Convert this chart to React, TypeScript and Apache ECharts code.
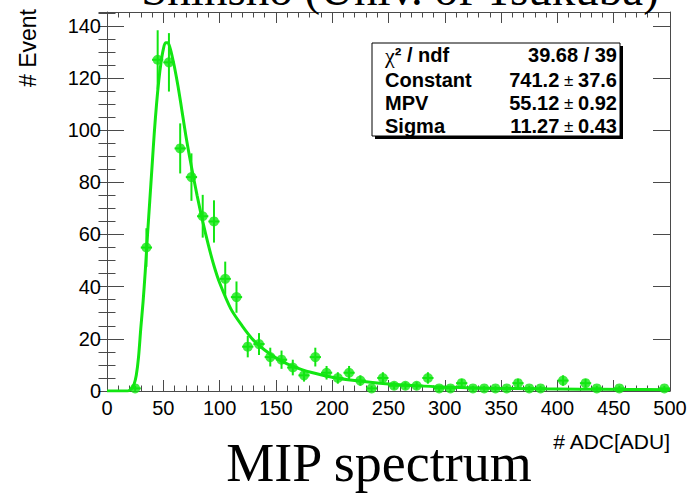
import React, { useEffect, useRef } from 'react';
import * as echarts from 'echarts';

// Histogram bins (bin centers, ADC) with counts and their error bars
const binCenters = [25, 35, 45, 55, 65, 75, 85, 95, 105, 115, 125, 135, 145, 155, 165, 175, 185, 195, 205, 215, 225, 235, 245, 255, 265, 275, 285, 295, 305, 315, 325, 335, 345, 355, 365, 375, 385, 405, 425, 435, 455, 495];
const counts = [1, 55, 127, 126, 93, 82, 67, 65, 43, 36, 17, 18, 13, 12, 9, 6, 13, 7, 5, 7, 4, 1, 5, 2, 2, 2, 5, 1, 1, 3, 1, 1, 1, 1, 3, 1, 1, 4, 3, 1, 1, 1];
const errors = [1, 7.4, 11.3, 11.2, 9.6, 9.1, 8.2, 8.1, 6.6, 6.0, 4.1, 4.2, 3.6, 3.5, 3.0, 2.4, 3.6, 2.6, 2.2, 2.6, 2.0, 1, 2.2, 1.4, 1.4, 1.4, 2.2, 1, 1, 1.7, 1, 1, 1, 1, 1.7, 1, 1, 2.0, 1.7, 1, 1, 1];
const halfBin = 5;

// Fitted curve
const curveX = [0, 10, 18, 20, 22, 24, 26, 28, 30, 32, 34, 36, 38, 40, 42, 44, 46, 48, 50, 52, 54, 56, 58, 60, 63, 66, 70, 75, 80, 85, 90, 95, 100, 110, 120, 130, 140, 150, 160, 170, 180, 200, 220, 240, 260, 280, 300, 340, 380, 420, 460, 500];
const curveY = [0, 0, 0, 0.3, 1, 2.5, 6, 13, 24, 34, 46, 60, 73, 86, 99, 110, 119, 126, 131, 133.5, 133.5, 131.5, 128, 124, 117, 109, 98, 86, 75, 65, 56, 48, 41.5, 31.5, 25, 19.5, 15.7, 12.7, 10.4, 8.7, 7.3, 5.3, 4.0, 3.1, 2.4, 1.9, 1.5, 1.1, 0.85, 0.7, 0.58, 0.48];

// Axes
const xMin = 0;
const xMax = 500;
const xStep = 50;
const yMin = 0;
const yMax = 145.3;
const yStep = 20;

// Texts
const topTitle = 'Shinsho (Univ. of Tsukuba)';
const bottomTitle = 'MIP spectrum';
const yTitle = '# Event';
const xTitle = '# ADC[ADU]';
const statNames = ['ndf', 'Constant', 'MPV', 'Sigma'];
const statValues = ['39.68 / 39', '741.2', '55.12', '11.27'];
const statErrors = ['', '37.6', '0.92', '0.43'];

const GREEN = '#12e612';
const AXIS = '#4a4a4a';
const SANS = "'Liberation Sans', Arial, sans-serif";
const SERIF = "'Liberation Serif', 'Times New Roman', serif";

export default function App() {
  const ref = useRef<HTMLDivElement>(null);
  useEffect(() => {
    if (!ref.current) return;
    const chart = echarts.init(ref.current, null, { renderer: 'svg' });

    const xAxisCommon = {
      type: 'value', min: xMin, max: xMax, interval: xStep,
      splitLine: { show: false },
      axisLine: { show: true, onZero: false, lineStyle: { color: AXIS, width: 1 } },
      axisTick: { show: true, inside: true, length: 11, lineStyle: { color: AXIS } },
      minorTick: { show: true, splitNumber: 5, length: 5.5, lineStyle: { color: AXIS } },
    };
    const yMajor = {
      type: 'value', min: yMin, max: yMax, interval: yStep,
      splitLine: { show: false },
      axisLine: { show: true, onZero: false, lineStyle: { color: AXIS, width: 1 } },
      axisTick: { show: true, inside: true, length: 17, lineStyle: { color: AXIS } },
    };
    const yMinor = {
      type: 'value', min: yMin, max: yMax, interval: yStep / 4,
      splitLine: { show: false },
      axisLine: { show: false },
      axisLabel: { show: false },
      axisTick: { show: true, inside: true, length: 8.5, lineStyle: { color: AXIS } },
    };

    const pts = binCenters.map((x, i) => [x, counts[i], errors[i]]);

    const statRows: any[] = [];
    const rowY = [55, 80, 103, 126];
    statNames.forEach((n, i) => {
      statRows.push({
        type: 'text', x: 385, y: rowY[i], z: 20,
        style: i === 0
          ? {
              text: '{chi|χ}{b|² / ndf}',
              verticalAlign: 'middle',
              rich: {
                chi: { fontFamily: SERIF, fontSize: 22, color: '#000' },
                b: { fontFamily: SANS, fontSize: 20, fontWeight: 'bold', color: '#000' },
              },
            }
          : { text: n, font: `bold 20px ${SANS}`, fill: '#000', verticalAlign: 'middle' },
      });
      statRows.push({
        type: 'text', x: 617, y: rowY[i], z: 20,
        style: i === 0
          ? { text: statValues[i], font: `bold 20px ${SANS}`, fill: '#000', align: 'right', verticalAlign: 'middle' }
          : {
              text: `{b|${statValues[i]}}{pm| ± }{b|${statErrors[i]}}`,
              align: 'right', verticalAlign: 'middle',
              rich: {
                b: { fontFamily: SANS, fontSize: 20, fontWeight: 'bold', color: '#000' },
                pm: { fontFamily: SANS, fontSize: 17, color: '#000' },
              },
            },
      });
    });

    chart.setOption({
      animation: false,
      backgroundColor: '#ffffff',
      grid: { left: 107, right: 30, top: 12, bottom: 107, containLabel: false },
      xAxis: [
        {
          ...xAxisCommon, position: 'bottom',
          axisLabel: { show: true, margin: 7, color: '#000', fontFamily: SANS, fontSize: 20 },
        },
        { ...xAxisCommon, position: 'top', axisLabel: { show: false } },
      ],
      yAxis: [
        {
          ...yMajor, position: 'left',
          axisLabel: {
            show: true, margin: 6, color: '#000', fontFamily: SANS, fontSize: 20,
            formatter: (v: number) => (Math.abs(v % yStep) < 1e-6 ? String(v) : ''),
          },
        },
        { ...yMinor, position: 'left' },
        { ...yMajor, position: 'right', axisLabel: { show: false } },
        { ...yMinor, position: 'right' },
      ],
      series: [
        {
          type: 'line', xAxisIndex: 0, yAxisIndex: 0,
          data: curveX.map((x, i) => [x, curveY[i]]),
          smooth: 0.3, showSymbol: false, symbol: 'none',
          lineStyle: { color: GREEN, width: 3 },
          z: 3,
        },
        {
          type: 'custom', xAxisIndex: 0, yAxisIndex: 0,
          data: pts,
          renderItem: (params: any, api: any) => {
            const x = api.value(0);
            const y = api.value(1);
            const e = api.value(2);
            const top = api.coord([x, y + e]);
            const bot = api.coord([x, Math.max(0, y - e)]);
            const l = api.coord([x - halfBin, y]);
            const r = api.coord([x + halfBin, y]);
            return {
              type: 'group',
              children: [
                { type: 'line', shape: { x1: top[0], y1: top[1], x2: bot[0], y2: bot[1] }, style: { stroke: GREEN, lineWidth: 2 } },
                { type: 'line', shape: { x1: l[0], y1: l[1], x2: r[0], y2: r[1] }, style: { stroke: GREEN, lineWidth: 2 } },
              ],
            };
          },
          z: 4,
        },
        {
          type: 'scatter', xAxisIndex: 0, yAxisIndex: 0,
          data: pts.map((p) => [p[0], p[1]]),
          symbol: 'circle', symbolSize: 10,
          itemStyle: { color: GREEN },
          z: 5,
        },
      ],
      graphic: [
        {
          type: 'text', x: 400, y: -11,
          style: { text: topTitle, font: `47px ${SERIF}`, fill: '#000', align: 'center', verticalAlign: 'middle' },
          z: 1,
        },
        {
          type: 'text', x: 28, y: 48, rotation: Math.PI / 2,
          style: { text: yTitle, font: `23px ${SANS}`, fill: '#000', align: 'center', verticalAlign: 'middle' },
        },
        {
          type: 'text', x: 670, y: 441,
          style: { text: xTitle, font: `21px ${SANS}`, fill: '#000', align: 'right', verticalAlign: 'middle' },
        },
        {
          type: 'text', x: 379, y: 463,
          style: { text: bottomTitle, font: `54px ${SERIF}`, fill: '#000', align: 'center', verticalAlign: 'middle' },
        },
        {
          type: 'rect', shape: { x: 375, y: 46, width: 248, height: 93 },
          style: { fill: '#000' }, z: 10,
        },
        {
          type: 'rect', shape: { x: 372, y: 43, width: 248, height: 93 },
          style: { fill: '#fff', stroke: '#000', lineWidth: 1 }, z: 11,
        },
        ...statRows,
      ],
    });
    return () => chart.dispose();
  }, []);
  return (
    <div
      ref={ref}
      style={{ position: 'fixed', left: 0, top: 0, width: 700, height: 498, background: '#fff' }}
    />
  );
}
